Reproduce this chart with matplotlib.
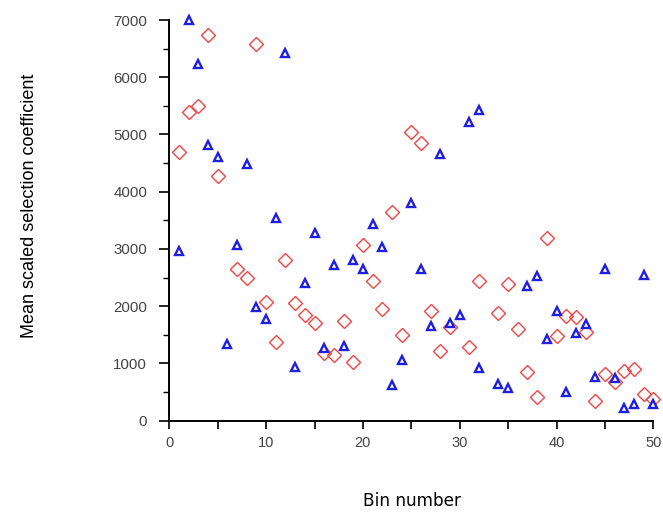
import matplotlib
matplotlib.use("Agg")
import matplotlib.pyplot as plt
from matplotlib.ticker import MultipleLocator, FuncFormatter

# values (bin number, mean scaled selection coefficient)
tri_bins = [1, 2, 3, 4, 5, 6, 7, 8, 9, 10, 11, 12, 13, 14, 15, 16, 17, 18, 19, 20,
            21, 22, 23, 24, 25, 26, 27, 28, 29, 30, 31, 32, 32, 34, 35, 37, 38, 39, 40,
            41, 42, 43, 44, 45, 46, 47, 48, 49, 50]
tri_vals = [2960, 7000, 6237, 4822, 4612, 1335, 3064, 4485, 1992, 1775, 3536, 6418,
            943, 2411, 3274, 1265, 2720, 1310, 2808, 2650, 3436, 3040, 624, 1060,
            3798, 2656, 1655, 4665, 1712, 1847, 5213, 5428, 921, 636, 577, 2359,
            2528, 1422, 1910, 501, 1527, 1684, 763, 2645, 740, 216, 292, 2545, 292]

dia_bins = [1, 2, 3, 4, 5, 7, 8, 9, 10, 11, 12, 13, 14, 15, 16, 17, 18, 19, 20,
            21, 22, 23, 24, 25, 26, 27, 28, 29, 31, 32, 34, 35, 36, 37, 38, 39, 40,
            41, 42, 43, 44, 45, 46, 47, 48, 49, 50]
dia_vals = [4694, 5398, 5503, 6744, 4275, 2656, 2493, 6586, 2065, 1370, 2808, 2051,
            1841, 1712, 1177, 1148, 1736, 1031, 3075, 2441, 1946, 3646, 1497, 5038,
            4851, 1922, 1218, 1643, 1293, 2441, 1876, 2388, 1597, 857, 420, 3197,
            1475, 1835, 1817, 1544, 344, 816, 682, 874, 903, 461, 374]

fig = plt.figure(figsize=(6.63, 5.16), dpi=100)
ax = fig.add_axes([169.3 / 663, 1 - 420.7 / 516, (653.3 - 169.3) / 663, (420.7 - 20) / 516])

ax.plot(dia_bins, dia_vals, linestyle="none", marker="D", markersize=6.8,
        markerfacecolor="none", markeredgecolor="#f04545", markeredgewidth=1.0,
        clip_on=False, zorder=3)
ax.plot(tri_bins, tri_vals, linestyle="none", marker="^", markersize=5.3,
        markerfacecolor="white", markeredgecolor="#1f1fe0", markeredgewidth=1.7,
        clip_on=False, zorder=4)

ax.set_xlim(0, 50)
ax.set_ylim(0, 7000)

for side in ["top", "right"]:
    ax.spines[side].set_visible(False)
for side in ["left", "bottom"]:
    ax.spines[side].set_linewidth(1.4)

ax.xaxis.set_major_locator(MultipleLocator(5))
ax.xaxis.set_major_formatter(FuncFormatter(lambda v, p: f"{int(v)}" if int(v) % 10 == 0 else ""))
ax.yaxis.set_major_locator(MultipleLocator(1000))
ax.yaxis.set_minor_locator(MultipleLocator(500))

ax.tick_params(axis="x", direction="out", length=6, width=1.2, pad=5,
               labelsize=10.5, labelcolor="#444444")
ax.tick_params(axis="y", which="major", direction="out", length=7, width=1.2, pad=9,
               labelsize=10.8, labelcolor="#444444")
ax.tick_params(axis="y", which="minor", direction="out", length=4, width=1.0)
for lab in ax.get_xticklabels() + ax.get_yticklabels():
    lab.set_fontfamily("Liberation Sans")

fig.text(30 / 663, 1 - 206 / 516, "Mean scaled selection coefficient", rotation=90,
         ha="center", va="center", fontsize=13, family="Liberation Sans", color="black")
fig.text(412 / 663, 1 - 501 / 516, "Bin number", ha="center", va="center",
         fontsize=12.2, family="DejaVu Sans", color="black")

fig.savefig("out.png", dpi=100)
